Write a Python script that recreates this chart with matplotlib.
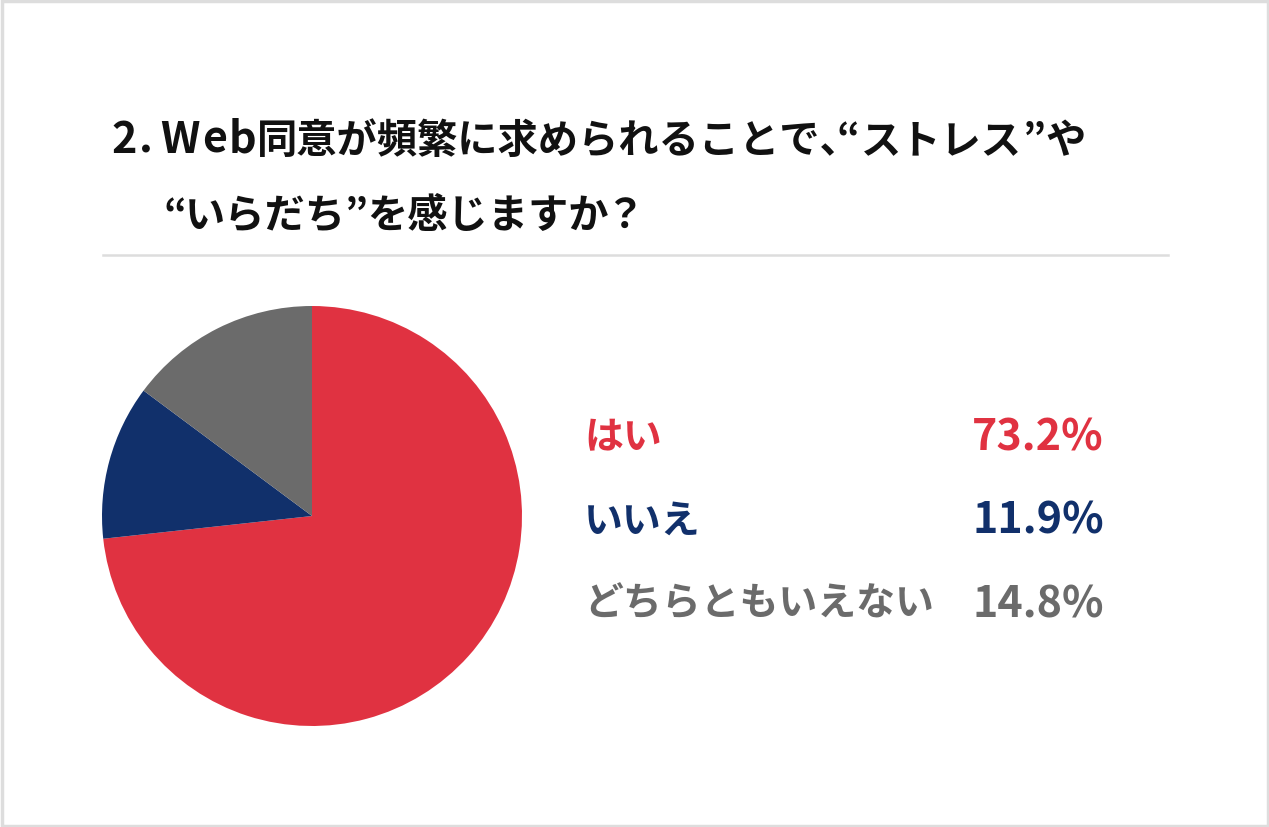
import matplotlib
matplotlib.use("Agg")
import matplotlib.pyplot as plt
import numpy as np
from matplotlib.patches import Rectangle
from matplotlib.lines import Line2D

plt.rcParams['font.family'] = ['Noto Sans CJK JP', 'DejaVu Sans']

title_line1 = "2. Web同意が頻繁に求められることで、“ストレス”や"
title_line2 = "“いらだち”を感じますか？"
categories = ["はい", "いいえ", "どちらともいえない"]
values = [73.2, 11.9, 14.8]
value_labels = ["73.2%", "11.9%", "14.8%"]
colors = ["#E03241", "#11306B", "#6B6B6B"]

# title pieces: (text, font size, ink gap in px after the previous piece)
title1_pieces = [("2", 31, 0), (".", 31, 7), ("W", 31, 12), ("e", 31, 5), ("b", 31, 6),
                 ("同意が頻繁に求められることで、", 29, 5), ("“", 29, 5), ("ストレス", 29, 7),
                 ("”", 29, 8), ("や", 29, 4)]
title2_pieces = [("“", 29, 0), ("いらだち", 29, 6), ("”", 29, 8), ("を感じますか", 29, 5), ("？", 29, 7)]

W, H = 1269, 828


def ink_span(txt, size):
    """Horizontal ink extent (left, right) of a text drawn with ha='left' at x=100px."""
    f = plt.figure(figsize=(W / 100, 1.0), dpi=100)
    f.text(100 / W, 0.3, txt, ha="left", va="baseline", fontsize=size, fontweight="bold",
           color="black")
    f.canvas.draw()
    a = np.asarray(f.canvas.buffer_rgba())[:, :, :3]
    cols = np.where((a < 160).any(axis=(0, 2)))[0]
    plt.close(f)
    return cols.min() - 100, cols.max() + 1 - 100


fig = plt.figure(figsize=(W / 100, H / 100), dpi=100)
fig.patch.set_facecolor("white")

# frame
fig.add_artist(Rectangle((1.5 / W, 1.5 / H), 1 - 3 / W, 1 - 3 / H, transform=fig.transFigure,
                         fill=False, edgecolor="#DDDDDD", linewidth=2.5))


def fx(x):
    return x / W


def fy(y):
    return 1 - y / H


def draw_pieces(pieces, ink_x0, yb, color):
    prev_right = ink_x0
    for txt, size, gap in pieces:
        left, right = ink_span(txt, size)
        ink_left = prev_right + gap
        x = ink_left - left
        fig.text(fx(x), fy(yb), txt, ha="left", va="baseline", fontsize=size,
                 fontweight="bold", color=color)
        prev_right = x + right


draw_pieces(title1_pieces, 114, 153, "#111111")
draw_pieces(title2_pieces, 165, 228, "#111111")

fig.add_artist(Line2D([fx(103), fx(1168)], [fy(256), fy(256)], transform=fig.transFigure,
                      color="#DDDDDD", linewidth=1.8))

# pie
cx, cy, r = 312, 517, 210
ax = fig.add_axes([fx(cx - r), fy(cy + r), 2 * r / W, 2 * r / H])
ax.pie(values, colors=colors, startangle=90, counterclock=False, radius=1,
       wedgeprops=dict(linewidth=0))
ax.set_xlim(-1, 1)
ax.set_ylim(-1, 1)
ax.set_aspect("auto")
ax.axis("off")

rows_y = [438, 521, 604]
for cat, lab, c, y in zip(categories, value_labels, colors, rows_y):
    fig.text(fx(584), fy(y), cat, fontsize=28, fontweight="bold", color=c, ha="left", va="center")
    fig.text(fx(1104), fy(y), lab, fontsize=31, fontweight="bold", color=c, ha="right", va="center")

fig.savefig("out.png", dpi=100, facecolor="white")
